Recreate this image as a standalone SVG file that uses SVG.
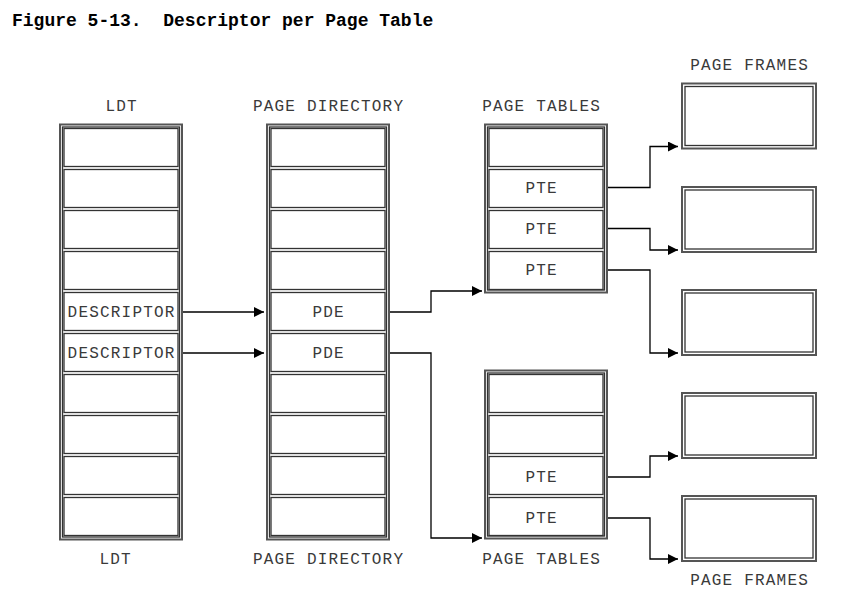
<svg xmlns="http://www.w3.org/2000/svg" width="843" height="609" viewBox="0 0 843 609">
<style>
.o{fill:none;stroke:#555;stroke-width:2}
.i{fill:none;stroke:#333;stroke-width:1.3}
.c{fill:#fff;stroke:#333;stroke-width:1.3}
.t{font-family:"Courier New",Courier,"Nimbus Mono PS",FreeMono,"Liberation Mono",monospace;font-size:16px;letter-spacing:1.2px;fill:#3a3a3a;text-anchor:middle}
.ti{font-family:"Courier New",Courier,"Nimbus Mono PS",FreeMono,"Liberation Mono",monospace;font-size:18px;font-weight:bold;fill:#000;white-space:pre}
.w{fill:none;stroke:#000;stroke-width:1.3}
</style>
<defs>
<marker id="a" markerWidth="10" markerHeight="10" refX="10" refY="5" orient="auto" markerUnits="userSpaceOnUse">
<path d="M0,0 L10,5 L0,10 Z" fill="#000"/>
</marker>
</defs>
<rect width="843" height="609" fill="#fff"/>
<text class="ti" x="12" y="26" xml:space="preserve">Figure 5-13.  Descriptor per Page Table</text>

<text class="t" x="121.6" y="110.5">LDT</text>
<text class="t" x="328.6" y="110.5">PAGE DIRECTORY</text>
<text class="t" x="541.6" y="110.5">PAGE TABLES</text>
<text class="t" x="749.6" y="69.5">PAGE FRAMES</text>
<text class="t" x="115.6" y="563.5">LDT</text>
<text class="t" x="328.6" y="563.5">PAGE DIRECTORY</text>
<text class="t" x="541.6" y="563.5">PAGE TABLES</text>
<text class="t" x="749.6" y="584.5">PAGE FRAMES</text>

<g id="ldt">
<rect class="o" x="60" y="124.5" width="122" height="415"/>
<rect class="i" x="62.5" y="127" width="117" height="410"/>
<rect class="c" x="64" y="128.5" width="114" height="38"/>
<rect class="c" x="64" y="169.5" width="114" height="38"/>
<rect class="c" x="64" y="210.5" width="114" height="38"/>
<rect class="c" x="64" y="251.5" width="114" height="38"/>
<rect class="c" x="64" y="292.5" width="114" height="38"/>
<rect class="c" x="64" y="333.5" width="114" height="38"/>
<rect class="c" x="64" y="374.5" width="114" height="38"/>
<rect class="c" x="64" y="415.5" width="114" height="38"/>
<rect class="c" x="64" y="456.5" width="114" height="38"/>
<rect class="c" x="64" y="497.5" width="114" height="38"/>
<text class="t" x="121.6" y="317">DESCRIPTOR</text>
<text class="t" x="121.6" y="358">DESCRIPTOR</text>
</g>

<g id="pagedir">
<rect class="o" x="267" y="124.5" width="122" height="415"/>
<rect class="i" x="269.5" y="127" width="117" height="410"/>
<rect class="c" x="271" y="128.5" width="114" height="38"/>
<rect class="c" x="271" y="169.5" width="114" height="38"/>
<rect class="c" x="271" y="210.5" width="114" height="38"/>
<rect class="c" x="271" y="251.5" width="114" height="38"/>
<rect class="c" x="271" y="292.5" width="114" height="38"/>
<rect class="c" x="271" y="333.5" width="114" height="38"/>
<rect class="c" x="271" y="374.5" width="114" height="38"/>
<rect class="c" x="271" y="415.5" width="114" height="38"/>
<rect class="c" x="271" y="456.5" width="114" height="38"/>
<rect class="c" x="271" y="497.5" width="114" height="38"/>
<text class="t" x="328.6" y="317">PDE</text>
<text class="t" x="328.6" y="358">PDE</text>
</g>

<g id="pt1">
<rect class="o" x="485" y="124.5" width="122" height="168"/>
<rect class="i" x="487.5" y="127" width="117" height="163"/>
<rect class="c" x="489" y="128.5" width="114" height="38"/>
<rect class="c" x="489" y="169.5" width="114" height="38"/>
<rect class="c" x="489" y="210.5" width="114" height="38"/>
<rect class="c" x="489" y="251.5" width="114" height="38"/>
<text class="t" x="541.6" y="193">PTE</text>
<text class="t" x="541.6" y="234">PTE</text>
<text class="t" x="541.6" y="275">PTE</text>
</g>

<g id="pt2">
<rect class="o" x="485" y="370.5" width="122" height="168"/>
<rect class="i" x="487.5" y="373" width="117" height="163"/>
<rect class="c" x="489" y="374.5" width="114" height="38"/>
<rect class="c" x="489" y="415.5" width="114" height="38"/>
<rect class="c" x="489" y="456.5" width="114" height="38"/>
<rect class="c" x="489" y="497.5" width="114" height="38"/>
<text class="t" x="541.6" y="482">PTE</text>
<text class="t" x="541.6" y="523">PTE</text>
</g>

<g id="pf1"><rect class="o" x="682" y="83.5" width="134" height="65"/><rect class="i" x="685" y="86.5" width="128" height="59"/></g>
<g id="pf2"><rect class="o" x="682" y="187" width="134" height="65"/><rect class="i" x="685" y="190" width="128" height="59"/></g>
<g id="pf3"><rect class="o" x="682" y="290" width="134" height="65"/><rect class="i" x="685" y="293" width="128" height="59"/></g>
<g id="pf4"><rect class="o" x="682" y="393" width="134" height="65"/><rect class="i" x="685" y="396" width="128" height="59"/></g>
<g id="pf5"><rect class="o" x="682" y="496" width="134" height="65"/><rect class="i" x="685" y="499" width="128" height="59"/></g>

<g id="connectors">
<path class="w" d="M183,312 H264" marker-end="url(#a)"/>
<path class="w" d="M183,353 H264" marker-end="url(#a)"/>
<path class="w" d="M390,312 H431 V291 H482" marker-end="url(#a)"/>
<path class="w" d="M390,353 H431 V538 H482" marker-end="url(#a)"/>
<path class="w" d="M608,187.5 H650 V146.5 H678" marker-end="url(#a)"/>
<path class="w" d="M608,228.5 H650 V250 H678" marker-end="url(#a)"/>
<path class="w" d="M608,270 H650 V353 H678" marker-end="url(#a)"/>
<path class="w" d="M608,477 H650 V456 H678" marker-end="url(#a)"/>
<path class="w" d="M608,518 H650 V559 H678" marker-end="url(#a)"/>
</g>
</svg>
